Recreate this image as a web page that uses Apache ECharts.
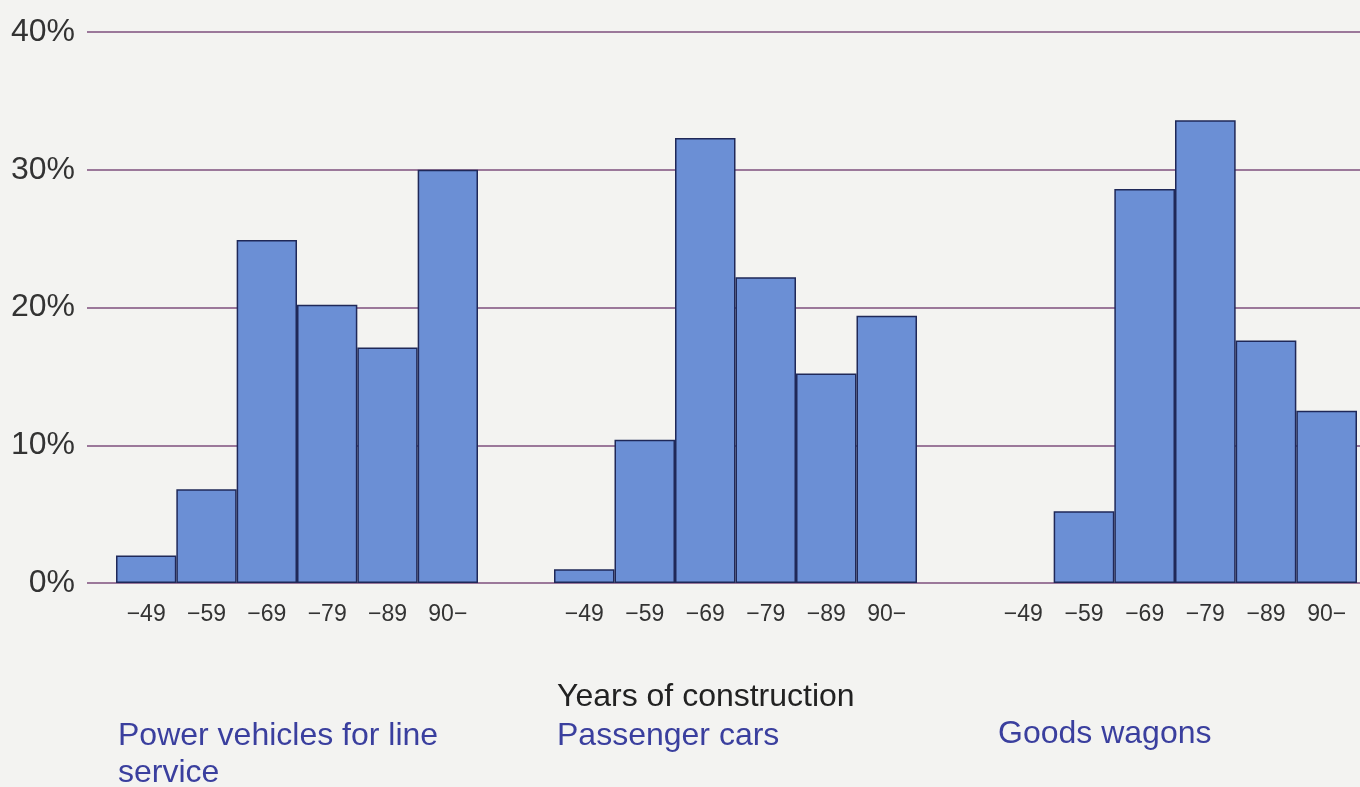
<!DOCTYPE html>
<html>
<head>
<meta charset="utf-8">
<script src="https://cdn.jsdelivr.net/npm/echarts@6/dist/echarts.min.js"></script>
<style>
  html, body { margin: 0; padding: 0; background: #f3f3f1; }
  #chart { width: 1360px; height: 787px; }
</style>
</head>
<body>
<div id="chart"></div>
<script>
const years = ["−49", "−59", "−69", "−79", "−89", "90−"];
const groups = ["Power vehicles for line\nservice", "Passenger cars", "Goods wagons"];
const powerVehicles = [2.0, 6.8, 24.9, 20.2, 17.1, 30.0];
const passengerCars = [1.0, 10.4, 32.3, 22.2, 15.2, 19.4];
const goodsWagons = [0, 5.2, 28.6, 33.6, 17.6, 12.5];
const yTicks = [0, 10, 20, 30, 40];

const BAR = "#6b8fd5";
const EDGE = "#1f2858";
const GRIDLINE = "#7e4f7c";
const FONT = "Liberation Sans, Arial, sans-serif";

const groupGrids = [
  { left: 116, width: 362 },
  { left: 554, width: 363 },
  { left: 993, width: 364 },
];
const groupData = [powerVehicles, passengerCars, goodsWagons];

const chart = echarts.init(document.getElementById("chart"), null, { renderer: "canvas" });

const grid = [{ left: 87, right: 0, top: 32, bottom: 204 }]
  .concat(groupGrids.map((g) => ({ left: g.left, width: g.width, top: 32, bottom: 204 })));

const xAxis = [{ gridIndex: 0, type: "category", data: [], show: false }]
  .concat(groupGrids.map((g, i) => ({
    gridIndex: i + 1,
    type: "category",
    data: years,
    axisLine: { show: false },
    axisTick: { show: false },
    axisLabel: { color: "#333", fontFamily: FONT, fontSize: 23, margin: 20, interval: 0 },
  })));

const yAxis = [{
  gridIndex: 0,
  type: "value",
  min: yTicks[0],
  max: yTicks[yTicks.length - 1],
  interval: 10,
  axisLine: { show: false },
  axisTick: { show: false },
  axisLabel: { color: "#333", fontFamily: FONT, fontSize: 32, margin: 12, formatter: "{value}%" },
  splitLine: { lineStyle: { color: GRIDLINE, width: 1.5 } },
}].concat(groupGrids.map((g, i) => ({
  gridIndex: i + 1, type: "value", min: 0, max: 40, show: false, splitLine: { show: false },
})));

const series = groupData.map((values, i) => ({
  type: "bar",
  xAxisIndex: i + 1,
  yAxisIndex: i + 1,
  data: values.map((v) => (v ? v : "-")),
  barCategoryGap: 0,
  itemStyle: { color: BAR, borderColor: EDGE, borderWidth: 1.5 },
  z: 3,
}));

const textStyle = { fontFamily: FONT, fontSize: 32, lineHeight: 37 };
const graphic = [
  { type: "text", left: 557, top: 679, style: { ...textStyle, text: "Years of construction", fill: "#222" } },
  { type: "text", left: 118, top: 718, style: { ...textStyle, text: groups[0], fill: "#3a3f9e" } },
  { type: "text", left: 557, top: 718, style: { ...textStyle, text: groups[1], fill: "#3a3f9e" } },
  { type: "text", left: 998, top: 716, style: { ...textStyle, text: groups[2], fill: "#3a3f9e" } },
];

chart.setOption({
  backgroundColor: "#f3f3f1",
  animation: false,
  grid,
  xAxis,
  yAxis,
  series,
  graphic,
});
</script>
</body>
</html>
